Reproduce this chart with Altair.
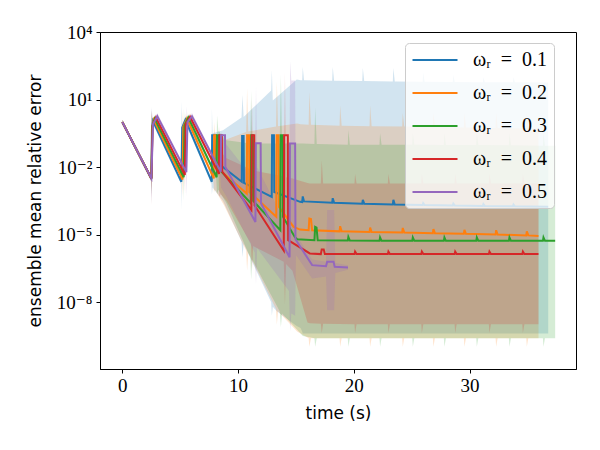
import altair as alt
import pandas as pd

SERIES = ["ωᵣ\u2002=\u20020.1", "ωᵣ\u2002=\u20020.2", "ωᵣ\u2002=\u20020.3", "ωᵣ\u2002=\u20020.4", "ωᵣ\u2002=\u20020.5"]
COLORS = ["#1f77b4", "#ff7f0e", "#2ca02c", "#d62728", "#9467bd"]

# mean lines: (time s, log10 error)
BLUE_LINE = [
    (0.0, 0.0), (2.51, -2.5), (2.56, -0.3), (2.65, 0.05), (5.10, -2.65), (5.17, -0.25), (5.45, 0.1),
    (7.73, -2.65), (7.76, -0.58), (8.05, -0.58), (8.08, -1.75), (10.32, -2.65), (10.35, -0.62), (10.48, -0.62), (10.51, -2.7),
    (12.91, -3.32), (12.94, -0.58), (13.10, -0.58), (13.13, -3.1), (15.36, -3.54),
    (15.54, -3.55), (15.59, -3.3), (15.70, -3.52), (18.13, -3.58), (18.18, -3.38), (18.30, -3.58),
    (20.73, -3.62), (20.78, -3.45), (20.90, -3.62), (23.37, -3.66), (23.42, -3.45), (23.54, -3.66),
    (25.95, -3.68), (26.00, -3.6), (26.12, -3.68), (28.55, -3.7), (28.60, -3.62), (28.72, -3.7),
    (31.15, -3.72), (31.20, -3.64), (31.32, -3.72), (33.75, -3.74), (33.80, -3.66), (33.92, -3.74), (36.80, -3.76)]
ORANGE_LINE = [
    (0.0, 0.0), (2.51, -2.5), (2.58, -0.25), (2.72, 0.1), (5.20, -2.55), (5.27, -0.2), (5.58, 0.15),
    (7.90, -2.5), (7.93, -0.58), (8.10, -0.58), (8.13, -2.0), (10.75, -3.17), (10.78, -0.58), (10.95, -0.58), (10.98, -3.1),
    (13.30, -4.2), (13.33, -0.58), (13.50, -0.58), (13.53, -3.76), (14.80, -4.65), (15.36, -4.77),
    (16.10, -4.8), (16.16, -4.28), (16.30, -4.3), (16.40, -4.8),
    (18.77, -4.85), (18.82, -4.62), (18.95, -4.85), (21.36, -4.88), (21.41, -4.68), (21.54, -4.88),
    (24.18, -4.9), (24.23, -4.7), (24.36, -4.9), (26.83, -4.93), (26.88, -4.75), (27.01, -4.93),
    (29.51, -4.96), (29.56, -4.78), (29.69, -4.96), (32.25, -4.99), (32.30, -4.8), (32.43, -4.99),
    (34.90, -5.03), (34.95, -4.85), (35.08, -5.03), (35.96, -5.06)]
GREEN_LINE = [
    (0.0, 0.0), (2.51, -2.5), (2.60, -0.2), (2.80, 0.15), (5.30, -2.45), (5.37, -0.15), (5.70, 0.2),
    (8.15, -2.45), (8.18, -0.58), (8.35, -0.58), (8.38, -2.1), (11.10, -3.6), (11.13, -0.58), (11.28, -0.58), (11.31, -3.5),
    (13.65, -4.8), (13.68, -0.58), (13.85, -0.58), (13.88, -4.2), (14.90, -5.1), (15.10, -5.2),
    (16.60, -5.24), (16.66, -4.65), (16.78, -4.68), (16.88, -5.24),
    (19.48, -5.26), (19.53, -5.1), (19.66, -5.26), (22.22, -5.27), (22.27, -5.12), (22.40, -5.27),
    (25.05, -5.27), (25.10, -5.12), (25.23, -5.27), (27.78, -5.27), (27.83, -5.12), (27.96, -5.27),
    (30.58, -5.27), (30.63, -5.12), (30.76, -5.27), (33.40, -5.27), (33.45, -5.12), (33.58, -5.27),
    (36.34, -5.27), (36.39, -5.12), (36.52, -5.27), (37.40, -5.27)]
RED_LINE = [
    (0.0, 0.0), (2.51, -2.5), (2.62, -0.15), (2.90, 0.2), (5.40, -2.35), (5.47, -0.1), (5.85, 0.23),
    (8.35, -2.3), (8.38, -0.58), (8.60, -0.58), (8.63, -2.2), (11.15, -3.9), (11.18, -0.58), (11.40, -0.58), (11.43, -3.7),
    (13.95, -5.7), (13.98, -0.58), (14.30, -0.58), (14.33, -5.24), (16.20, -5.83),
    (17.15, -5.86), (17.23, -5.65), (17.40, -5.65), (17.50, -5.86),
    (20.06, -5.86), (20.11, -5.75), (20.24, -5.86), (22.94, -5.86), (22.99, -5.75), (23.12, -5.86),
    (25.83, -5.86), (25.88, -5.75), (26.01, -5.86), (28.71, -5.86), (28.76, -5.75), (28.89, -5.86),
    (31.67, -5.86), (31.72, -5.75), (31.85, -5.86), (34.56, -5.86), (34.61, -5.75), (34.74, -5.86), (35.96, -5.86)]
PURPLE_LINE = [
    (0.0, 0.0), (2.51, -2.5), (2.65, -0.1), (3.02, 0.26), (5.53, -2.22), (5.63, 0.0), (6.02, 0.26),
    (8.50, -2.2), (8.53, -0.58), (8.87, -0.58), (8.90, -1.99), (11.50, -4.43), (11.53, -0.94), (11.95, -0.94), (11.98, -3.6),
    (14.45, -6.0), (14.48, -0.95), (14.93, -0.95), (14.96, -5.2), (16.40, -6.35),
    (17.60, -6.4), (17.70, -6.2), (18.25, -6.2), (18.35, -6.42), (19.50, -6.45)]

# shaded bands: (time s, log10 lower, log10 upper)
BLUE_BAND = [
    (0.0, -0.1, 0.1), (2.47, -2.6, -2.4), (2.51, -3.6, 0.7), (2.56, -0.45, -0.15), (2.65, -0.1, 0.2),
    (5.07, -2.75, -2.55), (5.11, -3.9, 0.9), (5.17, -0.4, -0.1), (5.45, -0.05, 0.25),
    (7.70, -2.75, -2.55), (7.74, -3.2, 0.6), (7.80, -2.9, -0.5), (8.70, -3.5, -0.36),
    (10.30, -5.3, 0.2), (10.38, -6.0, 1.2), (10.48, -5.4, 0.23),
    (12.86, -8.0, 1.4), (12.92, -8.6, 2.3), (13.00, -8.2, 0.96),
    (13.35, -8.4, 1.12), (15.07, -9.05, 1.89), (15.40, -9.14, 1.86),
    (15.54, -9.3, 1.86), (15.59, -9.38, 2.45), (15.70, -9.38, 1.86),
    (18.13, -9.38, 1.84), (18.18, -9.38, 2.45), (18.30, -9.38, 1.84),
    (20.73, -9.38, 1.82), (20.78, -9.38, 2.4), (20.90, -9.38, 1.82),
    (23.37, -9.38, 1.8), (23.42, -9.38, 2.4), (23.54, -9.38, 1.8),
    (25.95, -9.38, 1.79), (26.00, -9.38, 2.2), (26.12, -9.38, 1.79),
    (28.55, -9.38, 1.78), (28.60, -9.38, 2.1), (28.72, -9.38, 1.78),
    (31.15, -9.38, 1.77), (31.20, -9.38, 2.0), (31.32, -9.38, 1.77),
    (33.75, -9.38, 1.77), (33.80, -9.38, 2.0), (33.92, -9.38, 1.77), (36.80, -9.38, 1.76)]
ORANGE_BAND = [
    (0.0, -0.1, 0.1), (2.48, -2.6, -2.4), (2.53, -3.0, 0.4), (2.58, -0.4, -0.1), (2.72, -0.05, 0.25),
    (5.17, -2.65, -2.45), (5.22, -3.3, 0.5), (5.27, -0.35, -0.05), (5.58, 0.0, 0.3),
    (7.87, -2.6, -2.4), (7.92, -3.1, 0.0), (8.00, -3.0, -0.5), (8.80, -3.7, -0.8),
    (10.70, -5.7, -0.44), (10.78, -6.6, 1.5), (10.88, -5.8, -0.42),
    (13.28, -8.3, -0.2), (13.35, -9.0, 1.8), (13.45, -8.4, -0.18),
    (15.10, -9.3, -0.06), (15.40, -9.38, -0.1),
    (16.10, -9.6, -0.12), (16.16, -9.97, 1.34), (16.30, -9.6, -0.12),
    (18.77, -9.6, -0.16), (18.82, -9.97, 0.74), (18.95, -9.6, -0.16),
    (21.36, -9.6, -0.18), (21.41, -9.97, 0.74), (21.54, -9.6, -0.18),
    (24.18, -9.6, -0.2), (24.23, -9.97, 0.4), (24.36, -9.6, -0.2),
    (26.83, -9.6, -0.22), (26.88, -9.97, 0.4), (27.01, -9.6, -0.22),
    (29.51, -9.6, -0.24), (29.56, -9.97, 0.4), (29.69, -9.6, -0.24),
    (32.25, -9.6, -0.26), (32.30, -9.97, 0.4), (32.43, -9.6, -0.26),
    (34.90, -9.6, -0.28), (34.95, -9.97, 0.4), (35.08, -9.6, -0.28), (35.96, -9.6, -0.3)]
GREEN_BAND = [
    (0.0, -0.1, 0.1), (2.48, -2.6, -2.4), (2.53, -3.2, 0.5), (2.60, -0.35, -0.05), (2.80, 0.0, 0.3),
    (5.27, -2.55, -2.35), (5.32, -3.5, 0.6), (5.37, -0.3, 0.0), (5.70, 0.05, 0.35),
    (8.12, -2.55, -2.35), (8.18, -3.2, 0.3), (8.30, -3.0, -0.4), (9.00, -3.6, -0.8),
    (11.05, -6.0, -0.95), (11.13, -7.0, 1.4), (11.22, -6.1, -0.95),
    (13.60, -8.4, -0.95), (13.70, -9.1, 2.1), (13.80, -8.5, -0.95),
    (15.60, -9.5, -0.95), (16.60, -9.6, -0.97), (16.66, -9.97, 0.65), (16.80, -9.6, -0.97),
    (19.48, -9.6, -1.0), (19.53, -9.97, -0.36), (19.66, -9.6, -1.0),
    (22.22, -9.6, -1.0), (22.27, -9.97, -0.5), (22.40, -9.6, -1.0),
    (25.05, -9.6, -1.0), (25.10, -9.97, -0.5), (25.23, -9.6, -1.0),
    (27.78, -9.6, -1.02), (27.83, -9.97, -0.5), (27.96, -9.6, -1.02),
    (30.58, -9.6, -1.02), (30.63, -9.97, -0.5), (30.76, -9.6, -1.02),
    (33.40, -9.6, -1.03), (33.45, -9.97, -0.5), (33.58, -9.6, -1.03),
    (36.34, -9.6, -1.05), (36.39, -9.97, -0.5), (36.52, -9.6, -1.05), (37.40, -9.6, -1.05)]
RED_BAND = [
    (0.0, -0.1, 0.1), (2.48, -2.6, -2.4), (2.53, -3.7, 0.5), (2.62, -0.3, 0.0), (2.90, 0.05, 0.35),
    (5.37, -2.45, -2.25), (5.42, -3.2, 0.4), (5.47, -0.25, 0.05), (5.85, 0.08, 0.38),
    (8.32, -2.4, -2.2), (8.38, -3.3, -0.2), (8.50, -3.2, -1.3), (9.00, -3.5, -1.6),
    (11.12, -5.4, -2.1), (11.20, -6.6, 1.05), (11.30, -5.5, -2.15),
    (13.95, -6.2, -2.4), (14.05, -8.1, 2.2), (14.15, -6.3, -2.45),
    (14.70, -6.6, -2.5), (16.00, -8.9, -2.7), (16.20, -8.93, -2.72),
    (17.15, -8.95, -2.72), (17.23, -9.36, -1.7), (17.35, -8.95, -2.72),
    (20.06, -8.97, -2.72), (20.11, -9.36, -2.3), (20.24, -8.97, -2.72),
    (22.94, -8.97, -2.72), (22.99, -9.36, -2.3), (23.12, -8.97, -2.72),
    (25.83, -8.97, -2.72), (25.88, -9.36, -2.3), (26.01, -8.97, -2.72),
    (28.71, -8.97, -2.72), (28.76, -9.36, -2.3), (28.89, -8.97, -2.72),
    (31.67, -8.97, -2.72), (31.72, -9.36, -2.3), (31.85, -8.97, -2.72),
    (34.56, -8.97, -2.72), (34.61, -9.36, -2.3), (34.74, -8.97, -2.72), (35.96, -8.97, -2.72)]
PURPLE_BAND = [
    (0.0, -0.1, 0.1), (2.48, -2.6, -2.4), (2.53, -3.4, 0.6), (2.65, -0.25, 0.05), (3.02, 0.1, 0.4),
    (5.50, -2.35, -2.1), (5.56, -3.3, 0.7), (5.63, -0.15, 0.15), (6.02, 0.1, 0.4),
    (8.47, -2.35, -2.1), (8.53, -2.9, -0.45), (9.00, -3.3, -1.0),
    (11.45, -5.8, -2.6), (11.55, -7.2, 1.6), (11.65, -5.6, -2.0),
    (14.40, -7.5, -4.8), (14.50, -9.3, 2.7), (14.60, -8.5, 1.85), (14.93, -8.6, 1.85),
    (15.00, -5.9, -5.0), (16.40, -6.94, -6.1), (17.60, -6.85, -6.2), (17.70, -8.35, -3.9),
    (18.30, -8.35, -3.9), (18.40, -6.7, -6.25), (19.50, -6.55, -6.35)]

LINES = [BLUE_LINE, ORANGE_LINE, GREEN_LINE, RED_LINE, PURPLE_LINE]
BANDS = [BLUE_BAND, ORANGE_BAND, GREEN_BAND, RED_BAND, PURPLE_BAND]

line_rows, band_rows = [], []
for k, name in enumerate(SERIES):
    for i, (t, e) in enumerate(LINES[k]):
        line_rows.append({"series": name, "k": k, "i": i, "t": t, "v": 10.0 ** e})
    for i, (t, lo, hi) in enumerate(BANDS[k]):
        band_rows.append({"series": name, "k": k, "i": i, "t": t, "lo": 10.0 ** lo, "hi": 10.0 ** hi})
line_df = pd.DataFrame(line_rows)
band_df = pd.DataFrame(band_rows)

xs = alt.Scale(domain=[-1.93, 39.2], nice=False, zero=False)
ys = alt.Scale(type="log", domain=[10 ** -10.96, 1e4], nice=False)
cs = alt.Scale(domain=SERIES, range=COLORS)

SERIF = "Liberation Serif, DejaVu Serif, serif"
SANS = "DejaVu Sans, sans-serif"

xaxis = alt.Axis(values=[0, 10, 20, 30], title="time (s)", grid=False, labelFont=SERIF, labelFontSize=19,
                 titleFont=SANS, titleFontSize=17, titleFontWeight="normal", titleColor="black",
                 labelColor="black", tickColor="black", domainColor="black", tickSize=4, labelPadding=3,
                 titlePadding=10, labelFlush=False)
yaxis = alt.Axis(values=[1e4, 1e1, 1e-2, 1e-5, 1e-8], title="ensemble mean relative error", grid=False,
                 labelExpr="datum.value > 1000 ? '10⁴' : datum.value > 1 ? '10¹' : datum.value > 0.001 ? '10⁻²' : datum.value > 0.000001 ? '10⁻⁵' : '10⁻⁸'",
                 labelFont=SERIF, labelFontSize=19, titleFont=SANS, titleFontSize=17, titleFontWeight="normal",
                 titleColor="black", labelColor="black", tickColor="black", domainColor="black", tickSize=4,
                 labelPadding=4, titlePadding=12, labelFlush=False)

legend = alt.Legend(
    title=None, orient="none", legendX=305, legendY=11, symbolType="M-2.25,0H2.25", symbolSize=400,
    symbolStrokeWidth=2, symbolOpacity=1, symbolOffset=13, labelFont=SERIF, labelFontSize=20,
    labelColor="black", padding=6, rowPadding=12, labelOffset=27,
    fillColor="rgba(255,255,255,0.8)", strokeColor="#cccccc", cornerRadius=4)

bands = alt.Chart(band_df).mark_area(opacity=0.2, clip=True).encode(
    x=alt.X("t:Q", scale=xs, axis=xaxis),
    y=alt.Y("lo:Q", scale=ys, axis=yaxis),
    y2="hi:Q",
    color=alt.Color("series:N", scale=cs, legend=legend),
)

lines = alt.Chart(line_df).mark_line(strokeWidth=2, clip=True).encode(
    x=alt.X("t:Q", scale=xs),
    y=alt.Y("v:Q", scale=ys),
    color=alt.Color("series:N", scale=cs, legend=legend),
    order=alt.Order("i:Q"),
)

chart = alt.layer(bands, lines).properties(
    width=476, height=337,
    padding={"left": 92, "top": 24, "right": 16, "bottom": 60},
    autosize=alt.AutoSizeParams(type="none"),
    background="white",
).configure_view(stroke="black", strokeWidth=1)

chart.save("out.html", embed_options={"renderer": "svg", "actions": False})
